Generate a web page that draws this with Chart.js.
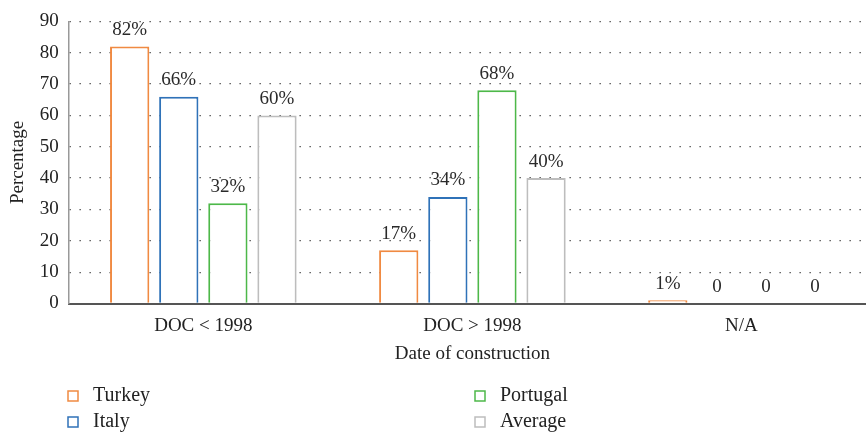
<!DOCTYPE html>
<html><head><meta charset="utf-8">
<script src="https://cdn.jsdelivr.net/npm/chart.js@4/dist/chart.umd.min.js"></script>
<style>
html,body{margin:0;padding:0;background:#fff;overflow:hidden;}
#wrap{position:relative;width:866px;height:432px;overflow:hidden;}
#box{position:absolute;left:0;top:0;width:876px;height:432px;}
</style></head><body>
<div id="wrap"><div id="box"><canvas id="c"></canvas></div></div>
<script>
const categories = ["DOC < 1998", "DOC > 1998", "N/A"];
const turkey = [82, 17, 1];
const italy = [66, 34, 0];
const portugal = [32, 68, 0];
const average = [60, 40, 0];
const seriesNames = ["Turkey", "Italy", "Portugal", "Average"];
const yTicks = [0,10,20,30,40,50,60,70,80,90];
const colors = ["#F08A42", "#2F72B8", "#4DB849", "#BDBDBD"];
const FONT = "'Liberation Serif', 'DejaVu Serif', serif";

const seriesData = [turkey, italy, portugal, average];
const datasets = seriesData.map((d, i) => ({
  label: seriesNames[i], data: d,
  backgroundColor: "#ffffff", borderColor: colors[i], borderWidth: 2,
  barPercentage: 0.8, categoryPercentage: 0.73
}));

const labelPlugin = {
  id: "vals",
  afterDatasetsDraw(chart) {
    const ctx = chart.ctx;
    ctx.save();
    ctx.font = "19px " + FONT;
    ctx.fillStyle = "#2a2a2a";
    ctx.textAlign = "center";
    ctx.textBaseline = "bottom";
    chart.data.datasets.forEach((ds, i) => {
      chart.getDatasetMeta(i).data.forEach((bar, j) => {
        const v = ds.data[j];
        const t = v === 0 ? "0" : v + "%";
        ctx.fillText(t, bar.x, bar.y - 7);
      });
    });
    ctx.restore();
  }
};

const legendPlugin = {
  id: "leg",
  afterDraw(chart) {
    const ctx = chart.ctx;
    ctx.save();
    ctx.font = "20px " + FONT;
    ctx.textBaseline = "middle";
    const pos = [[68,396],[68,422],[475,396],[475,422]];
    seriesNames.forEach((n, i) => {
      const [x, y] = pos[i];
      ctx.strokeStyle = colors[i];
      ctx.lineWidth = 1.5;
      ctx.strokeRect(x, y - 5, 10, 10);
      ctx.fillStyle = "#222";
      ctx.fillText(n, x + 25, y);
    });
    ctx.restore();
  }
};

new Chart(document.getElementById("c"), {
  type: "bar",
  data: { labels: categories, datasets },
  options: {
    responsive: true, maintainAspectRatio: false, animation: false,
    layout: { padding: { top: 7, bottom: 73, left: 7, right: 0 } },
    plugins: { legend: { display: false }, tooltip: { enabled: false } },
    scales: {
      x: {
        grid: { display: false, drawTicks: false },
        border: { color: "#555", width: 2 },
        ticks: { font: { family: FONT, size: 19, lineHeight: 1 }, color: "#222", padding: 13 },
        title: { display: true, text: "Date of construction", font: { family: FONT, size: 19, lineHeight: 0.5 }, color: "#222", padding: { top: 1, bottom: 0 } }
      },
      y: {
        min: 0, max: 90,
        afterBuildTicks(s) { s.ticks = yTicks.map(v => ({ value: v })); },
        grid: { color: "#444", lineWidth: 1.3, drawTicks: false },
        border: { color: "#999", width: 1.5, dash: [1.3, 8.7] },
        ticks: { font: { family: FONT, size: 19 }, color: "#222", padding: 10 },
        title: { display: true, text: "Percentage", font: { family: FONT, size: 19 }, color: "#222", padding: { top: 0, bottom: 0 } }
      }
    }
  },
  plugins: [labelPlugin, legendPlugin]
});
</script>
</body></html>
